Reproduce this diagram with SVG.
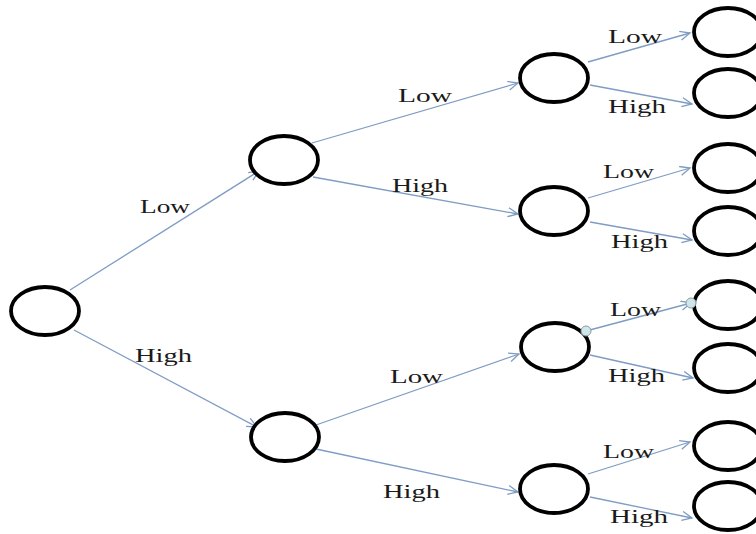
<svg xmlns="http://www.w3.org/2000/svg" width="756" height="534" viewBox="0 0 756 534">
<style>
.n{fill:#fff;stroke:#000;stroke-width:3.8}
.e{stroke:#7f9cc4;stroke-width:1.3;fill:none;marker-end:url(#a)}
.t{font-family:"Liberation Serif","Times New Roman",serif;font-size:19px;fill:#1a1a1a}
.h{fill:#cfe6ea;stroke:#8c9c9c;stroke-width:1}
</style>
<defs>
<marker id="a" markerUnits="userSpaceOnUse" markerWidth="14" markerHeight="12" refX="11" refY="5" orient="auto">
<path d="M1,0.5 L11,5 L1,9.5" fill="none" stroke="#7f9cc4" stroke-width="1.3"/>
</marker>
</defs>
<rect width="756" height="534" fill="#fff"/>
<g id="connectors">
<line class="e" x1="70" y1="290" x2="259" y2="171"/>
<line class="e" x1="74" y1="330" x2="257" y2="427"/>
<line class="e" x1="312" y1="143" x2="518" y2="83"/>
<line class="e" x1="313" y1="177" x2="518" y2="214"/>
<line class="e" x1="316" y1="425" x2="519" y2="354"/>
<line class="e" x1="316" y1="449" x2="518" y2="492"/>
<line class="e" x1="588" y1="62" x2="690" y2="33"/>
<line class="e" x1="590" y1="85" x2="692" y2="104"/>
<line class="e" x1="588" y1="198" x2="690" y2="168"/>
<line class="e" x1="590" y1="222" x2="692" y2="240"/>
<line class="e" x1="586" y1="331" x2="691" y2="303"/>
<line class="e" x1="590" y1="355" x2="693" y2="378"/>
<line class="e" x1="588" y1="474" x2="690" y2="442"/>
<line class="e" x1="590" y1="497" x2="692" y2="518"/>
</g>
<g id="root"><ellipse class="n" cx="45" cy="311" rx="34" ry="24"/></g>
<g id="n_L"><ellipse class="n" cx="284" cy="160" rx="34" ry="24"/></g>
<g id="n_H"><ellipse class="n" cx="285" cy="437" rx="34" ry="24"/></g>
<g id="n_LL"><ellipse class="n" cx="554" cy="78" rx="34" ry="24"/></g>
<g id="n_LH"><ellipse class="n" cx="554" cy="211" rx="34" ry="24"/></g>
<g id="n_HL"><ellipse class="n" cx="555" cy="347" rx="34" ry="24"/></g>
<g id="n_HH"><ellipse class="n" cx="554" cy="489" rx="34" ry="24"/></g>
<g id="leaf1"><ellipse class="n" cx="728" cy="32" rx="34" ry="24"/></g>
<g id="leaf2"><ellipse class="n" cx="728" cy="93" rx="34" ry="24"/></g>
<g id="leaf3"><ellipse class="n" cx="728" cy="168" rx="34" ry="24"/></g>
<g id="leaf4"><ellipse class="n" cx="728" cy="231" rx="34" ry="24"/></g>
<g id="leaf5"><ellipse class="n" cx="728" cy="305" rx="34" ry="24"/></g>
<g id="leaf6"><ellipse class="n" cx="728" cy="368" rx="34" ry="24"/></g>
<g id="leaf7"><ellipse class="n" cx="728" cy="446" rx="34" ry="24"/></g>
<g id="leaf8"><ellipse class="n" cx="728" cy="506" rx="34" ry="24"/></g>
<g id="handles">
<circle class="h" cx="586" cy="331" r="5"/>
<circle class="h" cx="691" cy="303" r="5"/>
</g>
<g id="labels">
<text class="t" x="140" y="213" textLength="50" lengthAdjust="spacingAndGlyphs">Low</text>
<text class="t" x="135" y="362" textLength="57" lengthAdjust="spacingAndGlyphs">High</text>
<text class="t" x="398" y="102" textLength="54" lengthAdjust="spacingAndGlyphs">Low</text>
<text class="t" x="392" y="192" textLength="56" lengthAdjust="spacingAndGlyphs">High</text>
<text class="t" x="390" y="383" textLength="53" lengthAdjust="spacingAndGlyphs">Low</text>
<text class="t" x="383" y="498" textLength="57" lengthAdjust="spacingAndGlyphs">High</text>
<text class="t" x="608" y="43" textLength="54" lengthAdjust="spacingAndGlyphs">Low</text>
<text class="t" x="608" y="113" textLength="58" lengthAdjust="spacingAndGlyphs">High</text>
<text class="t" x="603" y="178" textLength="51" lengthAdjust="spacingAndGlyphs">Low</text>
<text class="t" x="611" y="248" textLength="57" lengthAdjust="spacingAndGlyphs">High</text>
<text class="t" x="610" y="316" textLength="51" lengthAdjust="spacingAndGlyphs">Low</text>
<text class="t" x="608" y="382" textLength="57" lengthAdjust="spacingAndGlyphs">High</text>
<text class="t" x="603" y="458" textLength="51" lengthAdjust="spacingAndGlyphs">Low</text>
<text class="t" x="610" y="523" textLength="58" lengthAdjust="spacingAndGlyphs">High</text>
</g>
</svg>
